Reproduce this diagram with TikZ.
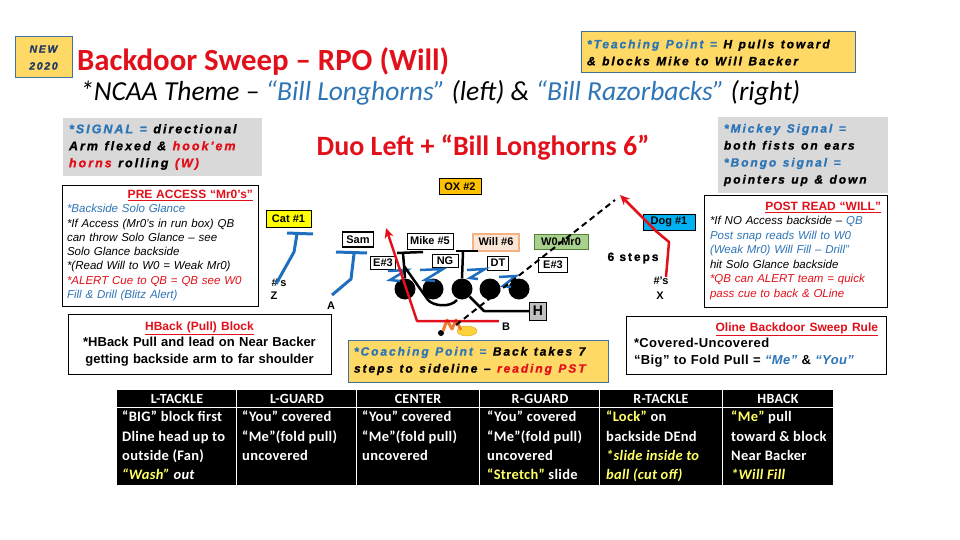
\documentclass[tikz,border=0pt]{standalone}
\usepackage{fontspec}
\setmainfont{Liberation Sans}
\newfontfamily\calfont{Carlito}
\newfontfamily\heavyfont[LetterSpace=16,FakeBold=1.2]{Liberation Sans}
\newfontfamily\tabfont[LetterSpace=2]{Carlito}
\newfontfamily\notefont[LetterSpace=3]{Liberation Sans}
\usetikzlibrary{arrows.meta, positioning}
\usepackage{xcolor}
\definecolor{teachyellow}{RGB}{255,217,102}
\definecolor{teachedge}{RGB}{65,113,156}
\definecolor{signalgrey}{RGB}{217,217,217}
\definecolor{playred}{RGB}{226,16,26}
\definecolor{playblue}{RGB}{46,117,182}
\definecolor{routeblue}{RGB}{30,112,190}
\definecolor{catyellow}{RGB}{255,255,0}
\definecolor{oxgold}{RGB}{255,192,0}
\definecolor{dogblue}{RGB}{0,176,240}
\definecolor{wzgreen}{RGB}{169,209,142}
\definecolor{wzedge}{RGB}{84,130,53}
\definecolor{lbpeach}{RGB}{251,229,214}
\definecolor{lbedge}{RGB}{244,177,131}
\definecolor{hgrey}{RGB}{191,191,191}
\definecolor{tabyellow}{RGB}{255,255,102}
\definecolor{backorange}{RGB}{237,125,49}
\definecolor{ballyellow}{RGB}{255,210,60}
\definecolor{navy}{RGB}{31,56,100}
\newcommand{\blu}[1]{\textcolor{playblue}{#1}}
\newcommand{\redd}[1]{\textcolor{playred}{#1}}
\newcommand{\yel}[1]{\textcolor{tabyellow}{#1}}
\newcommand{\boxttl}[1]{\hspace*{\fill}{\normalfont\bfseries\fontsize{12}{14}\selectfont\textcolor{playred}{\underline{#1}}}\hspace*{\fill}}
\newcommand{\heavyset}[1]{\heavyfont\bfseries\itshape\fontsize{#1}{17}\selectfont}
\newcommand{\widesp}{\spaceskip 6.5pt plus 1pt minus 1pt\relax}

\begin{document}
\begin{tikzpicture}[
    x=1pt, y=-1pt,
    tpbox/.style={rectangle, draw=teachedge, line width=1pt, fill=teachyellow},
    sigbox/.style={rectangle, fill=signalgrey},
    notebox/.style={rectangle, draw=black, line width=0.9pt, fill=white},
    heavy/.style={font={\heavyset{#1}}, align=left, execute at begin node={\widesp}},
    heavy/.default=12.5,
    tag/.style={rectangle, draw=black, line width=1pt, fill=#1,
                font=\bfseries\fontsize{11}{12}\selectfont, inner sep=1pt},
    tag/.default=white,
    lbtag/.style={tag=lbpeach, draw=lbedge, line width=2pt},
    lineman/.style={circle, fill=black, minimum size=21, inner sep=0pt},
    plabel/.style={font=\bfseries\fontsize{11}{12}\selectfont, inner sep=0pt},
    route/.style={line width=3pt, routeblue},
    blk/.style={line width=2.5pt, black},
    runline/.style={-{Stealth[length=10pt,width=9pt]}, line width=2.5pt, playred},
    readline/.style={line width=2pt, black, dash pattern=on 6pt off 4pt},
    thead/.style={font=\tabfont\bfseries\fontsize{14}{15}\selectfont, text=white},
    tbody/.style={font=\tabfont\bfseries\fontsize{14.5}{19.3}\selectfont, text=white,
                  align=left, anchor=north west, inner sep=0pt},
]
    \useasboundingbox (0,0) rectangle (960,540);

    % Heading
    \node[tpbox, minimum width=57, minimum height=41, inner sep=0pt, text=navy,
          font=\heavyfont\bfseries\itshape\fontsize{10.5}{17}\selectfont, align=center]
          (newtag) at (43.5,57.5) {NEW\\2020};
    \node[anchor=base west, inner sep=0pt, text=playred, font=\calfont\bfseries\fontsize{30.8}{33}\selectfont]
          (title) at (77,71) {Backdoor Sweep – RPO (Will)};
    \node[anchor=base west, inner sep=0pt, font=\calfont\itshape\fontsize{27.5}{29}\selectfont]
          (theme) at (80,101) {*NCAA Theme – \blu{“Bill Longhorns”} (left) \& \blu{“Bill Razorbacks”} (right)};
    \node[tpbox, minimum width=274, minimum height=41, text width=262, heavy=12]
          (teach) at (718,52.5) {\blu{*Teaching Point =} H pulls toward\\\& blocks Mike to Will Backer};
    \node[text=playred, font=\calfont\bfseries\fontsize{28}{30}\selectfont]
          (duo) at (483,148) {Duo Left + “Bill Longhorns 6”};

    % Signal boxes
    \node[sigbox, minimum width=199, minimum height=58, text width=187, heavy]
          (signal) at (162.5,147) {\blu{*SIGNAL =} directional\\Arm flexed \& \redd{hook'em}\\\redd{horns} rolling \redd{(W)}};
    \node[sigbox, minimum width=170, minimum height=76, text width=158, heavy=12]
          (mickey) at (803,155) {\blu{*Mickey Signal =}\\both fists on ears\\\blu{*Bongo signal =}\\pointers up \& down};

    % Read boxes
    \node[notebox, minimum width=196, minimum height=121, text width=186, align=left,
          font=\itshape\fontsize{11.5}{14.3}\selectfont]
          (preacc) at (160,245.5) {\boxttl{PRE ACCESS “Mr0’s”}\\
          \blu{*Backside Solo Glance}\\
          {}*If Access (Mr0’s in run box) QB\\
          can throw Solo Glance – see\\
          Solo Glance backside\\
          {}*(Read Will to W0 = Weak Mr0)\\
          \redd{*ALERT Cue to QB = QB see W0}\\
          \blu{Fill \& Drill (Blitz Alert)}};
    \node[notebox, minimum width=183, minimum height=112, text width=171, align=left,
          font=\itshape\fontsize{11.5}{14.5}\selectfont]
          (postread) at (795.5,251) {\boxttl{POST READ “WILL”}\\
          {}*If NO Access backside – \blu{QB}\\
          \blu{Post snap reads Will to W0}\\
          \blu{(Weak Mr0) Will Fill – Drill”}\\
          hit Solo Glance backside\\
          \redd{*QB can ALERT team = quick}\\
          \redd{pass cue to back \& OLine}};
    \node[notebox, minimum width=263, minimum height=60, text width=256, align=center,
          font=\bfseries\fontsize{13}{16.5}\selectfont]
          (hback) at (199.5,344) {{\fontsize{12}{14}\selectfont\textcolor{playred}{\underline{HBack (Pull) Block}}}\\
          {}*HBack Pull and lead on Near Backer\\getting backside arm to far shoulder};
    \node[tpbox, minimum width=260, minimum height=42, text width=248, heavy=12]
          (coach) at (478,361) {\blu{*Coaching Point =} Back takes 7\\steps to sideline – \redd{reading PST}};
    \node[notebox, minimum width=260, minimum height=58, text width=244, align=left,
          font=\notefont\bfseries\fontsize{13}{16.5}\selectfont]
          (oline) at (756,345) {\boxttl{Oline Backdoor Sweep Rule}\\
          {}*Covered-Uncovered\\
          “Big” to Fold Pull = \blu{\itshape “Me”} \& \blu{\itshape “You”}};

    % Defense
    \node[tag=catyellow, minimum width=45, minimum height=17] (cat) at (288.5,218.5) {Cat \#1};
    \node[tag, line width=1.5pt, minimum width=31, minimum height=15] (sam) at (358,239.5) {Sam};
    \node[lbtag, tag=white, minimum width=46, minimum height=16] (mike) at (430,241) {Mike \#5};
    \node[lbtag, minimum width=46, minimum height=17] (will) at (496,242) {Will \#6};
    \node[tag=wzgreen, draw=wzedge, minimum width=54, minimum height=15] (wzero) at (561,242) {W0-Mr0};
    \node[tag=oxgold, minimum width=42, minimum height=15] (ox) at (460,186.5) {OX \#2};
    \node[tag=dogblue, minimum width=52, minimum height=16] (dog) at (669,222) {Dog \#1};
    \node[tag, minimum width=25, minimum height=13] (eleft) at (383,263) {E\#3};
    \node[tag, minimum width=26, minimum height=13] (ng) at (445,261) {NG};
    \node[tag, minimum width=21, minimum height=14] (dt) at (498,263) {DT};
    \node[tag, minimum width=29, minimum height=15] (eright) at (553,265) {E\#3};

    % Offense
    \foreach \i/\x in {1/405,2/433,3/462,4/490,5/519}
        \node[lineman] (ol\i) at (\x,289) {};
    \node[tag=hgrey, minimum width=17, minimum height=18, font=\bfseries\fontsize{14}{15}\selectfont] (hb) at (538,311) {H};
    \node[plabel] (zs) at (279,283) {\#’s};
    \node[plabel] (z) at (274,296) {Z};
    \node[plabel] (a) at (331,306) {A};
    \node[plabel] (b) at (506,327) {B};
    \node[plabel] (xs) at (661,281) {\#’s};
    \node[plabel] (x) at (660,296) {X};
    \node[font=\heavyfont\bfseries\fontsize{12}{14}\selectfont] (steps) at (633,258) {6 steps};
    \draw[ballyellow!80!black, fill=ballyellow] (467,331) ellipse (10 and 5);
    \fill (441,333) circle (3);
    \draw[line width=3pt, backorange, line join=round] (443,331) -- (447,320) -- (452,329) -- (456,320) -- (461,330);

    % Routes and blocks
    \draw[route, line join=round] (z.north) ++(2,-8) -- (294,252) -- (297,234);
    \draw[route] (287,233) -- (313,234);
    \draw[route, line join=round] (a.north) ++(1,-7) -- (351,279) -- (354,254);
    \draw[route] (336,252) -- (367,253);
    \draw[route, line width=2.5pt] (388,271) -- (407,270) -- (390,280) -- (400,281);
    \draw[route, line width=2.5pt] (420,270) -- (443,269) -- (425,280) -- (435,281);
    \draw[route, line width=2.5pt] (467,270) -- (485,269) -- (470,278) -- (478,279);
    \draw[route, line width=2.5pt] (499,277) -- (516,276) -- (503,286) -- (511,287);
    \draw[blk] (ol1.north) -- (403,253);
    \draw[blk] (397,253) -- (423,252);
    \draw[blk] (ol3.north) -- (463,252);
    \draw[blk] (456,251) -- (478,251);
    \draw[blk, line join=round] (404,266) -- (428,300) .. controls (433,306) and (450,308) .. (457,300);
    \draw[blk, line join=round] (hb.west) -- (484,311) -- (ol3.south east);
    \draw[runline, line join=round] (b.west) ++(-3,-6) -- (417,321) -- (386,228);
    \draw[runline, line join=round] (xs.north) ++(5,0) -- (669,242) -- (657,232) -- (620,195);
    \draw[readline] (456,325) -- (615,200);

    % Line calls
    \fill (117,390) rectangle (833,485);
    \foreach \x in {236.5,356.5,479.5,599.5,722.5}
        \draw[white, line width=1.5pt] (\x,390) -- (\x,485);
    \draw[white, line width=1.5pt] (117,407.5) -- (833,407.5);
    \foreach \nm/\cx in {L-TACKLE/177,L-GUARD/297,CENTER/418,R-GUARD/540,R-TACKLE/661,HBACK/778}
        \node[thead] (h-\nm) at (\cx,399) {\nm};
    \node[tbody] (ltackle) at (122,411) {“BIG” block first\\Dline head up to\\outside (Fan)\\{\itshape\yel{“Wash”} out}};
    \node[tbody] (lguard) at (242,411) {“You” covered\\“Me”(fold pull)\\uncovered};
    \node[tbody] (center) at (362,411) {“You” covered\\“Me”(fold pull)\\uncovered};
    \node[tbody] (rguard) at (487,411) {“You” covered\\“Me”(fold pull)\\uncovered\\\yel{“Stretch”} slide};
    \node[tbody] (rtackle) at (606,411) {\yel{“Lock”} on\\backside DEnd\\\yel{\itshape *slide inside to}\\\yel{\itshape ball (cut off)}};
    \node[tbody] (hbk) at (731,411) {\yel{“Me”} pull\\toward \& block\\Near Backer\\\yel{\itshape *Will Fill}};
\end{tikzpicture}
\end{document}
